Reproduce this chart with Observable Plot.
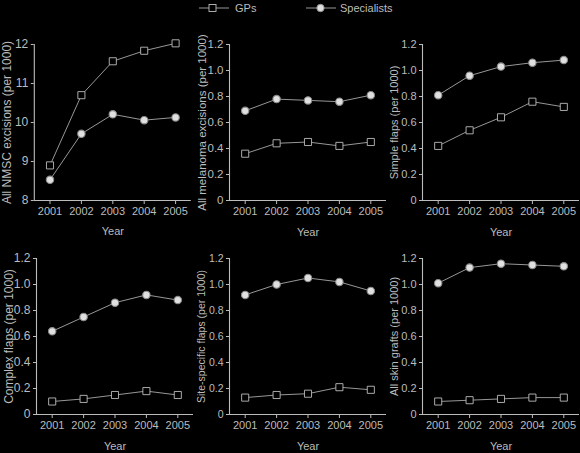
<!DOCTYPE html>
<html>
<head>
<meta charset="utf-8">
<script src="https://cdn.jsdelivr.net/npm/d3@7"></script>
<script src="https://cdn.jsdelivr.net/npm/@observablehq/plot@0.6"></script>
<style>
  html, body { margin: 0; padding: 0; background: #000; overflow: hidden; }
  #root { position: relative; width: 580px; height: 453px; background: #000; font-family: "Liberation Sans", Arial, sans-serif; color: #bcbcbc; }
  .panel { position: absolute; }
  .legend { position: absolute; top: 0; left: 0; width: 580px; height: 18px; }
  .legend .item { position: absolute; top: 1px; display: flex; align-items: center; font-size: 11px; line-height: 14px; }
  .legend svg { display: block; }
</style>
</head>
<body>
<div id="root">
  <div class="legend">
    <div class="item" style="left:198px;">
      <svg width="32" height="14"><line x1="1" y1="7" x2="31" y2="7" stroke="#a8a8a8" stroke-width="0.9"/><rect x="11" y="3.5" width="7" height="7" fill="#000" stroke="#bcbcbc" stroke-width="0.9"/></svg>
      <span style="margin-left:5px;">GPs</span>
    </div>
    <div class="item" style="left:305px;">
      <svg width="32" height="14"><line x1="1" y1="7" x2="31" y2="7" stroke="#a8a8a8" stroke-width="0.9"/><circle cx="15.5" cy="7" r="3.7" fill="#e0e0e0" stroke="#8a8a8a"/></svg>
      <span style="margin-left:3px;">Specialists</span>
    </div>
  </div>
</div>
<script>
const years = [2001, 2002, 2003, 2004, 2005];

const gpNmsc = [8.9, 10.7, 11.57, 11.84, 12.03];
const spNmsc = [8.53, 9.71, 10.21, 10.06, 10.13];
const gpMelanoma = [0.36, 0.44, 0.45, 0.42, 0.45];
const spMelanoma = [0.69, 0.78, 0.77, 0.76, 0.81];
const gpSimple = [0.42, 0.54, 0.64, 0.76, 0.72];
const spSimple = [0.81, 0.96, 1.03, 1.06, 1.08];
const gpComplex = [0.10, 0.12, 0.15, 0.18, 0.15];
const spComplex = [0.64, 0.75, 0.86, 0.92, 0.88];
const gpSite = [0.13, 0.15, 0.16, 0.21, 0.19];
const spSite = [0.92, 1.00, 1.05, 1.02, 0.95];
const gpGraft = [0.10, 0.11, 0.12, 0.13, 0.13];
const spGraft = [1.01, 1.13, 1.16, 1.15, 1.14];

const nmscTicks = [8, 9, 10, 11, 12];
const rateTicks = [0, 0.2, 0.4, 0.6, 0.8, 1.0, 1.2];

const labels = [
  "All NMSC excisions (per 1000)",
  "All melanoma excisions (per 1000)",
  "Simple flaps (per 1000)",
  "Complex flaps (per 1000)",
  "Site-specific flaps (per 1000)",
  "All skin grafts (per 1000)"
];

const FG = "#bcbcbc";
const LINE = "#a8a8a8";

const rateFmt = d => d === 0 ? "0" : d.toFixed(1);

const panels = [
  {gp: gpNmsc, sp: spNmsc, ticks: nmscTicks, fmt: d => String(d), label: labels[0], left: 0, top: 22, ml: 33.8, row: 0, lfs: 12},
  {gp: gpMelanoma, sp: spMelanoma, ticks: rateTicks, fmt: rateFmt, label: labels[1], left: 195.3, top: 22, ml: 34, row: 0, lfs: 11.5},
  {gp: gpSimple, sp: spSimple, ticks: rateTicks, fmt: rateFmt, label: labels[2], left: 388, top: 22, ml: 34, row: 0, lfs: 11},
  {gp: gpComplex, sp: spComplex, ticks: rateTicks, fmt: rateFmt, label: labels[3], left: 1.7, top: 236, ml: 34, row: 1, lfs: 12},
  {gp: gpSite, sp: spSite, ticks: rateTicks, fmt: rateFmt, label: labels[4], left: 195.3, top: 236, ml: 34, row: 1, lfs: 10.5},
  {gp: gpGraft, sp: spGraft, ticks: rateTicks, fmt: rateFmt, label: labels[5], left: 388.3, top: 236, ml: 34, row: 1, lfs: 11}
];

const root = document.getElementById("root");

for (const p of panels) {
  const gpData = years.map((year, i) => ({year, value: p.gp[i]}));
  const spData = years.map((year, i) => ({year, value: p.sp[i]}));
  const yDomain = [p.ticks[0], p.ticks[p.ticks.length - 1]];
  const height = p.row === 0 ? 216 : 217;
  const mb = p.row === 0 ? 38 : 39;
  const chart = Plot.plot({
    width: p.ml + 157 + 1,
    height,
    marginLeft: p.ml,
    marginRight: 1,
    marginTop: 22,
    marginBottom: mb,
    style: {background: "transparent", color: FG, fontFamily: "'Liberation Sans', Arial, sans-serif", fontSize: "11px", overflow: "visible"},
    x: {domain: [2000.5, 2005.5]},
    y: {domain: yDomain},
    marks: [
      Plot.ruleX([2000.5], {stroke: FG, strokeWidth: 1.1}),
      Plot.ruleY([yDomain[0]], {stroke: FG, strokeWidth: 1.1}),
      Plot.axisX({ticks: years, tickFormat: d => String(d), tickSize: 4, tickPadding: 3, stroke: FG, fill: FG,
        label: "Year", labelAnchor: "center", labelArrow: "none", labelOffset: 35}),
      Plot.axisY({ticks: p.ticks, tickFormat: p.fmt, tickSize: 3, tickPadding: 3, stroke: FG, fill: FG,
        label: p.label, labelAnchor: "center", labelArrow: "none", labelOffset: p.ml - 2, fontSize: p.lfs}),
      Plot.line(gpData, {x: "year", y: "value", stroke: LINE, strokeWidth: 0.9}),
      Plot.line(spData, {x: "year", y: "value", stroke: LINE, strokeWidth: 0.9}),
      Plot.dot(gpData, {x: "year", y: "value", symbol: "square", r: 4, fill: "#000", stroke: FG, strokeWidth: 0.9}),
      Plot.dot(spData, {x: "year", y: "value", symbol: "circle", r: 3.7, fill: "#e0e0e0", stroke: "#8a8a8a", strokeWidth: 1.1})
    ]
  });
  chart.classList.add("panel");
  chart.style.left = p.left + "px";
  chart.style.top = p.top + "px";
  chart.style.position = "absolute";
  root.appendChild(chart);
}
</script>
</body>
</html>
